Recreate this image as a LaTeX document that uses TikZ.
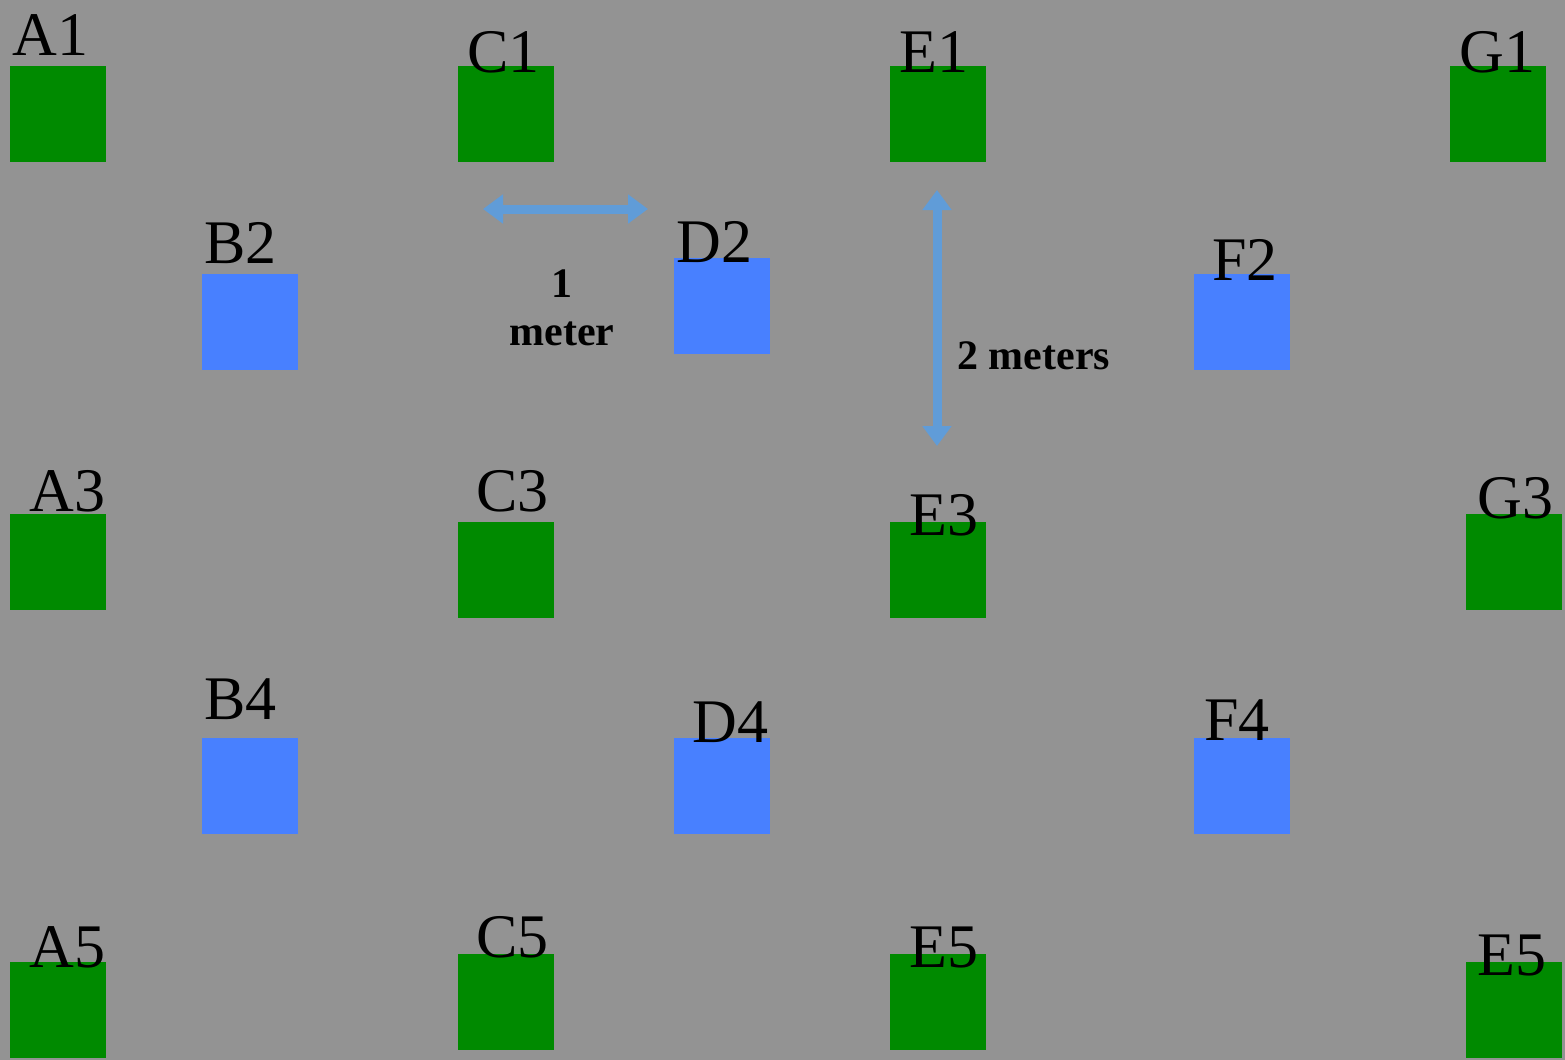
\documentclass[tikz,border=0pt]{standalone}
\usepackage{fontspec}
\setmainfont{Liberation Serif}
\usetikzlibrary{arrows.meta}
\definecolor{fieldgray}{RGB}{147,147,147}
\definecolor{plantgreen}{RGB}{0,138,0}
\definecolor{plantblue}{RGB}{72,128,255}
\definecolor{arrowblue}{RGB}{96,156,216}
\begin{document}
\begin{tikzpicture}[x=0.5pt,y=-0.5pt,
  plot/.style={minimum size=48pt,inner sep=0pt,anchor=north west},
  plotname/.style={anchor=base west,inner sep=0pt,font=\fontsize{31}{36}\selectfont},
  note/.style={inner sep=0pt,font=\fontsize{21}{24}\selectfont\bfseries},
  span/.style={arrowblue,line width=4.5pt,{Triangle[width=14pt,length=10pt]}-{Triangle[width=14pt,length=10pt]}}]
\fill[fieldgray] (0,0) rectangle (1565,1060);
\useasboundingbox (0,0) rectangle (1565,1060);
% plots: name/colour/x/y/label/label x/label y
\foreach \id/\col/\x/\y/\txt/\lx/\ly in {
  A1/plantgreen/10/66/A1/12/55, C1/plantgreen/458/66/C1/467/72,
  E1/plantgreen/890/66/E1/899/72, G1/plantgreen/1450/66/G1/1459/72,
  B2/plantblue/202/274/B2/204/263, D2/plantblue/674/258/D2/676/262,
  F2/plantblue/1194/274/F2/1212/280,
  A3/plantgreen/10/514/A3/29/511, C3/plantgreen/458/522/C3/476/511,
  E3/plantgreen/890/522/E3/909/535, G3/plantgreen/1466/514/G3/1477/518,
  B4/plantblue/202/738/B4/204/719, D4/plantblue/674/738/D4/692/742,
  F4/plantblue/1194/738/F4/1204/740,
  A5/plantgreen/10/962/A5/29/967, C5/plantgreen/458/954/C5/476/957,
  E5/plantgreen/890/954/E5/909/967, E5b/plantgreen/1466/962/E5/1477/975}{
  \node[plot,fill=\col] (\id) at (\x,\y) {};
  \node[plotname] (\id-name) at (\lx,\ly) {\txt};
}
% distance markers
\coordinate (h1) at (483,209);
\coordinate (h2) at (648,209);
\coordinate (v1) at (937,190);
\coordinate (v2) at (937,446);
\draw[span] (h1) -- (h2);
\draw[span] (v1) -- (v2);
\node[note,align=center] (hlabel) at (562,308) {1\\[0pt]meter};
\node[note,anchor=base west] (vlabel) at (957,369) {2 meters};
\end{tikzpicture}
\end{document}
